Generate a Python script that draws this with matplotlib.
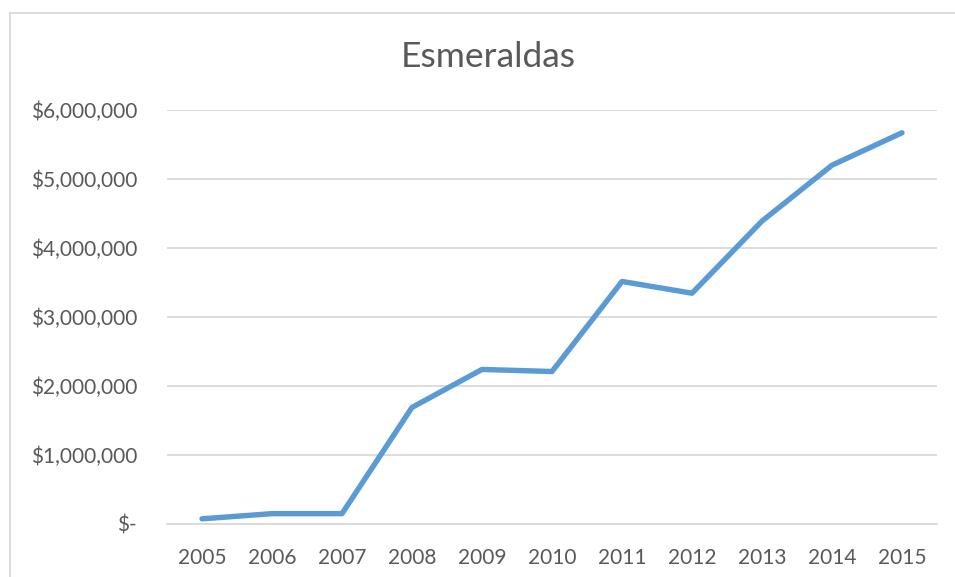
import matplotlib
matplotlib.use("Agg")
import matplotlib.pyplot as plt
from matplotlib.lines import Line2D
from matplotlib.ticker import FuncFormatter

years = ["2005", "2006", "2007", "2008", "2009", "2010",
         "2011", "2012", "2013", "2014", "2015"]
values = [75000, 150000, 150000, 1690000, 2240000, 2210000,
          3515000, 3345000, 4390000, 5200000, 5670000]
y_ticks = [0, 1000000, 2000000, 3000000, 4000000, 5000000, 6000000]

LINE = "#5b9bd5"
TEXT = "#595959"
GRID = "#d9d9d9"

plt.rcParams["font.family"] = ["Lato", "DejaVu Sans"]

W, H = 955, 577
fig = plt.figure(figsize=(W / 100, H / 100), dpi=100)
ax = fig.add_axes([167 / W, 1 - 524 / H, (937 - 167) / W, (524 - 110) / H])

x = list(range(len(years)))
ax.plot(x, values, color=LINE, linewidth=3.9, solid_capstyle="round",
        solid_joinstyle="round", zorder=3)

ax.set_xlim(-0.5, len(years) - 0.5)
ax.set_ylim(0, 6000000)
ax.set_yticks(y_ticks)
ax.yaxis.set_major_formatter(
    FuncFormatter(lambda v, p: "$-" if v == 0 else f"${v:,.0f}"))
ax.set_xticks(x)
ax.set_xticklabels(years)
ax.grid(True, axis="y", color=GRID, linewidth=1.3, zorder=0)
for s in ("top", "right", "left"):
    ax.spines[s].set_visible(False)
ax.spines["bottom"].set_color(GRID)
ax.spines["bottom"].set_linewidth(1.3)
ax.tick_params(length=0, colors=TEXT, labelsize=15)
ax.tick_params(axis="y", pad=21.5)
ax.tick_params(axis="x", pad=17)

fig.text(488 / W, 1 - 57 / H, "Esmeraldas", ha="center", va="center",
         fontsize=25.5, color=TEXT)

# outer chart border (clipped by the image on the right and bottom)
fig.add_artist(Line2D([9.5 / W, 9.5 / W], [0, 1 - 12.5 / H],
                      transform=fig.transFigure, color=GRID, linewidth=1.3))
fig.add_artist(Line2D([9.5 / W, 1], [1 - 12.5 / H, 1 - 12.5 / H],
                      transform=fig.transFigure, color=GRID, linewidth=1.3))

fig.savefig("out.png", dpi=100)
